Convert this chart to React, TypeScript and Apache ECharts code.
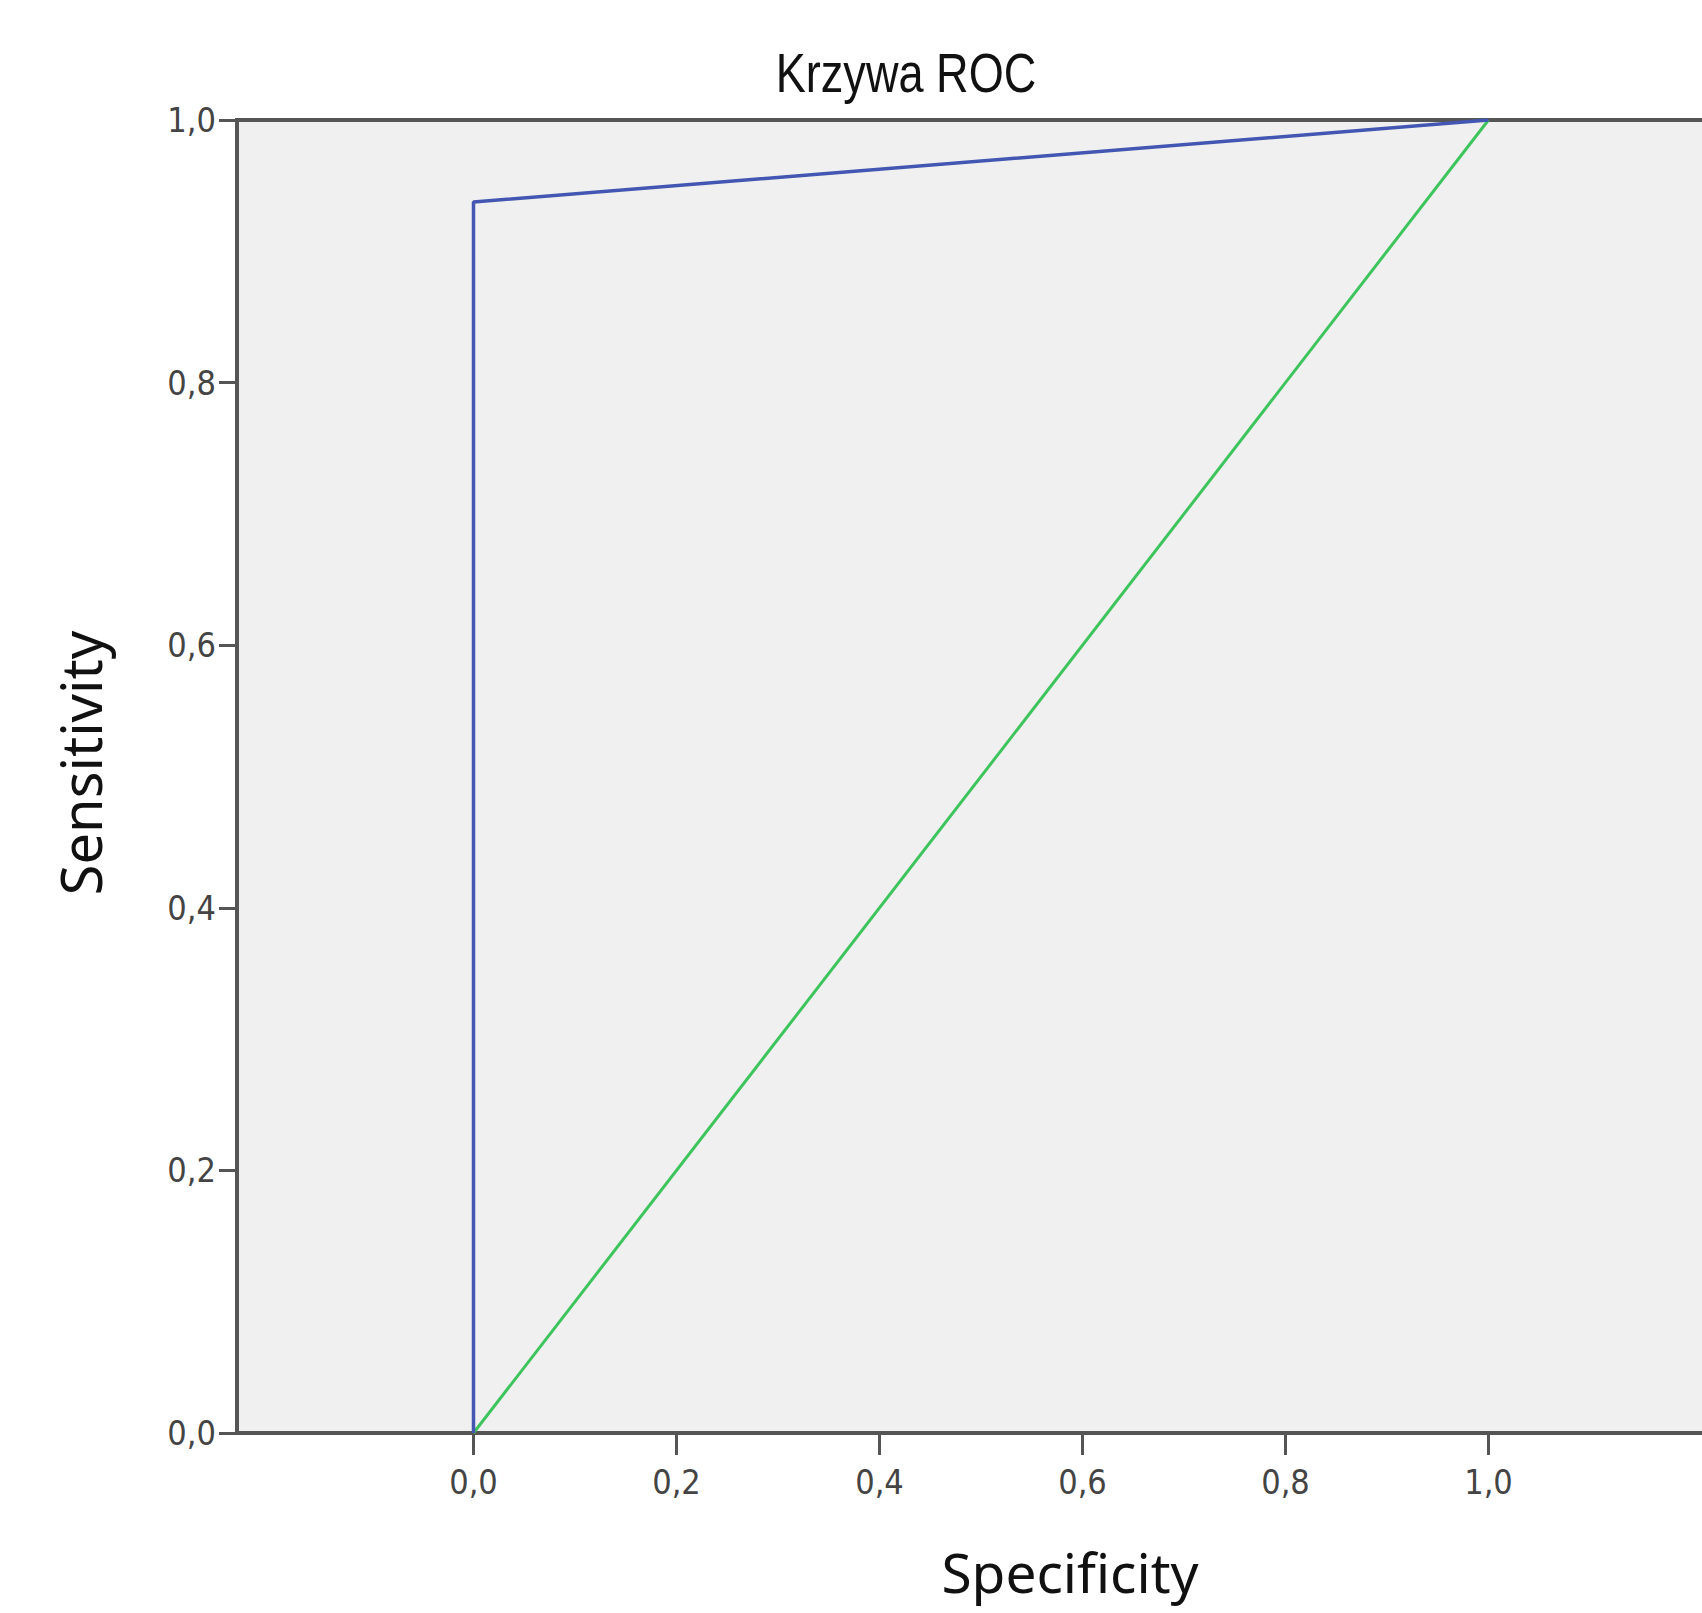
import React, { useEffect, useRef } from "react";
import * as echarts from "echarts";

const title = "Krzywa ROC";
const xAxisTitle = "Specificity";
const yAxisTitle = "Sensitivity";
const tickValues = [0, 0.2, 0.4, 0.6, 0.8, 1.0];
const rocX = [0, 0, 1];
const rocY = [0, 0.9375, 1];
const refX = [0, 1];
const refY = [0, 1];

const fmt = (v: number) => v.toFixed(1).replace(".", ",");

export default function App() {
  const ref = useRef<HTMLDivElement>(null);
  useEffect(() => {
    if (!ref.current) return;
    const chart = echarts.init(ref.current, null, { renderer: "svg" });
    const narrow = "'DejaVu Sans Condensed', 'Liberation Sans Narrow', 'Liberation Sans', sans-serif";
    chart.setOption({
      animation: false,
      backgroundColor: "#ffffff",
      grid: {
        left: 237,
        top: 120,
        right: 35,
        bottom: 180,
        show: true,
        backgroundColor: "#f0f0f0",
        borderColor: "#555555",
        borderWidth: 4,
        containLabel: false,
      },
      xAxis: {
        type: "value",
        min: -0.233,
        max: 1.233,
        splitLine: { show: false },
        axisLine: { show: true, onZero: false, lineStyle: { color: "#555555", width: 4 } },
        axisTick: {
          show: true,
          customValues: tickValues,
          length: 22,
          lineStyle: { color: "#555555", width: 3 },
        },
        axisLabel: {
          customValues: tickValues,
          formatter: (v: number) => fmt(v),
          fontFamily: narrow,
          fontSize: 34,
          color: "#444444",
          margin: 32,
        },
      },
      yAxis: {
        type: "value",
        min: 0,
        max: 1,
        interval: 0.2,
        splitLine: { show: false },
        axisLine: { show: true, onZero: false, lineStyle: { color: "#555555", width: 4 } },
        axisTick: { show: true, length: 18, lineStyle: { color: "#555555", width: 3 } },
        axisLabel: {
          formatter: (v: number) => fmt(v),
          fontFamily: narrow,
          fontSize: 34,
          color: "#444444",
          margin: 21,
          padding: [12, 0, 0, 0],
        },
      },
      series: [
        {
          type: "line",
          data: refX.map((x, i) => [x, refY[i]]),
          showSymbol: false,
          symbol: "none",
          lineStyle: { color: "#3ec45c", width: 3 },
          z: 2,
        },
        {
          type: "line",
          data: rocX.map((x, i) => [x, rocY[i]]),
          showSymbol: false,
          symbol: "none",
          lineStyle: { color: "#4357b2", width: 3.5 },
          z: 3,
        },
      ],
      graphic: [
        {
          type: "text",
          x: 906,
          y: 73,
          scaleX: 0.82,
          style: {
            text: title,
            fontFamily: "'Liberation Sans', Arial, sans-serif",
            fontSize: 55,
            fill: "#111111",
            textAlign: "center",
            textVerticalAlign: "middle",
          },
        },
        {
          type: "text",
          x: 1070,
          y: 1571,
          style: {
            text: xAxisTitle,
            fontFamily: "'Noto Sans', 'Open Sans', sans-serif",
            fontSize: 55,
            fill: "#111111",
            textAlign: "center",
            textVerticalAlign: "middle",
          },
        },
        {
          type: "text",
          x: 80,
          y: 763,
          rotation: Math.PI / 2,
          style: {
            text: yAxisTitle,
            fontFamily: "'Noto Sans', 'Open Sans', sans-serif",
            fontSize: 56,
            fill: "#111111",
            textAlign: "center",
            textVerticalAlign: "middle",
          },
        },
      ],
    });
    return () => chart.dispose();
  }, []);
  return (
    <div
      style={{
        position: "fixed",
        left: 0,
        top: 0,
        width: 1702,
        height: 1613,
        overflow: "hidden",
        background: "#ffffff",
      }}
    >
      <div ref={ref} style={{ width: 1760, height: 1613 }} />
    </div>
  );
}
